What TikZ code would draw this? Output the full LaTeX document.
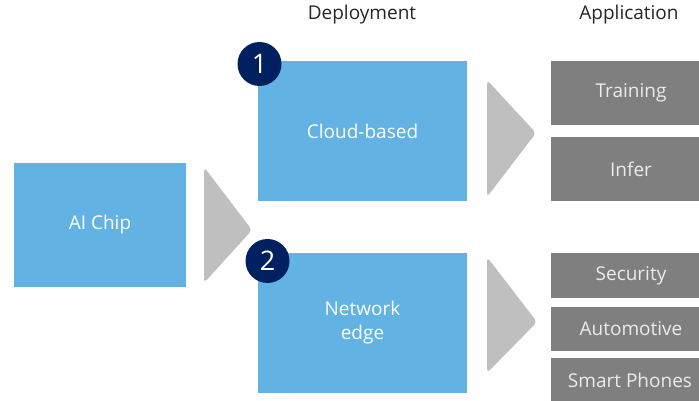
\documentclass[tikz,border=0pt]{standalone}
\usepackage{fontspec}
\setmainfont{Open Sans}
\definecolor{boxblue}{HTML}{62B3E4}
\definecolor{boxgray}{HTML}{7F7F7F}
\definecolor{trigray}{HTML}{BFBFBF}
\definecolor{navy}{HTML}{002060}
\begin{document}
\begin{tikzpicture}[x=1pt,y=-1pt,
  bluebox/.style={fill=boxblue,text=white,inner sep=0pt,font=\fontsize{19}{24}\selectfont,align=center},
  graybox/.style={fill=boxgray,text=white!92!black,inner sep=0pt,minimum width=160pt,font=\fontsize{19}{22}\selectfont},
  numcirc/.style={circle,fill=navy,text=white,inner sep=0pt,minimum size=44pt,font=\fontsize{27}{28}\selectfont},
  header/.style={text=black!85,font=\fontsize{19}{22}\selectfont},
  arrowtri/.style={fill=trigray,rounded corners=4pt}]
\useasboundingbox (0,0) rectangle (699,401);
\clip (0,0) rectangle (699,401);
\fill[white] (0,0) rectangle (699,401);
% headers
\node[header] (hdep) at (362,15) {Deployment};
\node[header] (happ) at (629,15) {Application};
% AI chip
\node[bluebox,minimum width=172pt,minimum height=124pt] (chip) at (100,225) {AI Chip};
% deployment boxes
\node[bluebox,minimum width=209pt,minimum height=140pt] (cloud) at (362.5,131) {Cloud-based};
\node[bluebox,minimum width=209pt,minimum height=140pt] (edge) at (362.5,323) {Network\\edge};
% triangles
\fill[arrowtri] (204,167) -- (252,230) -- (204,283) -- cycle;
\fill[arrowtri] (487,80) -- (536,133) -- (487,197) -- cycle;
\fill[arrowtri] (487,257) -- (537,322) -- (487,373) -- cycle;
% number circles
\node[numcirc] (n1) at (259.5,64) {1};
\node[numcirc] (n2) at (267.5,261) {2};
% application boxes
\node[graybox,minimum height=64pt] (train) at (631,93) {Training};
\node[graybox,minimum height=64pt] (infer) at (631,169) {Infer};
\node[graybox,minimum height=45pt] (sec) at (631,275.5) {Security};
\node[graybox,minimum height=44pt] (auto) at (631,328.5) {Automotive};
\node[graybox,minimum height=45pt,anchor=north] (phone) at (631,358) {};
\node[text=white!92!black,font=\fontsize{19}{22}\selectfont,inner sep=0pt] (phonet) at (630,380) {Smart Phones};
\end{tikzpicture}
\end{document}
